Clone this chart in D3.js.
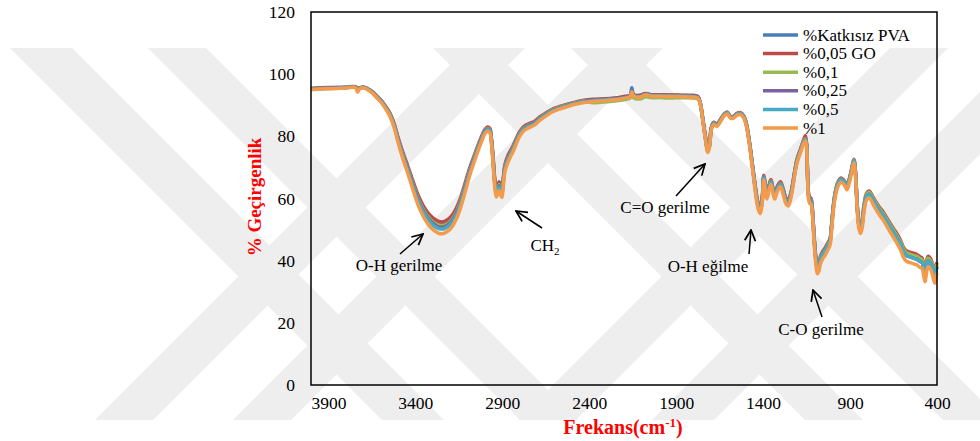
<!DOCTYPE html>
<html><head><meta charset="utf-8">
<script src="https://cdn.jsdelivr.net/npm/d3@7"></script>
<style>html,body{margin:0;padding:0;background:#fff;}svg{display:block;} svg text{font-family:"Liberation Serif","Times New Roman",serif;}</style>
</head><body><svg id="c" width="980" height="441"></svg>
<script>
// Wavenumbers (cm-1)
const wavenumbers = [4000,3950,3900,3850,3800,3745,3732,3722,3700,3675,3645,3620,3595,3570,3545,3520,3500,3470,3440,3410,3385,3355,3325,3295,3265,3240,3215,3190,3165,3140,3114,3085,3055,3025,3000,2985,2972,2962,2952,2942,2934,2926,2918,2910,2902,2895,2885,2870,2855,2840,2820,2800,2775,2745,2715,2683,2650,2610,2570,2530,2480,2430,2380,2330,2280,2230,2190,2165,2155,2145,2110,2075,2040,2000,1950,1900,1850,1800,1775,1762,1748,1733,1718,1708,1698,1685,1665,1645,1620,1605,1588,1572,1550,1530,1510,1495,1478,1460,1443,1428,1416,1405,1396,1388,1378,1365,1355,1343,1333,1318,1300,1285,1268,1255,1243,1232,1218,1205,1185,1168,1157,1150,1145,1140,1133,1125,1117,1108,1098,1088,1080,1070,1058,1044,1030,1015,1005,996,985,970,952,935,918,905,890,878,869,860,850,840,830,820,805,790,770,750,730,711,690,670,650,630,610,592,575,555,535,515,497,485,476,469,462,452,440,430,420,412,405,400];

const seriesNames = ["%Katkısız PVA","%0,05 GO","%0,1","%0,25","%0,5","%1"];
const seriesColors = ["#4A7EBB","#BE4B48","#98B954","#7D60A0","#46AAC5","#F59A4A"];

const pvaPure = [95.3,95.5,95.6,95.7,95.7,95.9,95.5,95.5,95.8,95.3,94.1,92.7,91.3,89.4,87.1,83.5,79.4,74.0,69.3,64.3,60.3,56.8,54.3,52.6,51.6,51.5,52.2,53.5,55.9,59.4,64.1,69.6,74.3,78.7,81.9,82.6,82.2,78.7,72.1,65.0,62.7,63.6,64.7,63.3,62.5,65.5,70.2,72.9,74.7,76.2,78.7,81.1,82.8,83.7,84.5,86.0,87.2,88.6,89.4,90.1,90.8,91.4,91.7,91.9,92.1,92.3,92.7,93.1,95.6,93.3,93.0,93.7,93.3,93.3,93.2,93.2,93.1,93.0,92.7,90.8,86.0,80.2,75.7,77.3,82.6,84.4,83.8,85.3,87.3,87.6,86.3,86.3,87.3,87.5,86.3,83.6,77.8,70.1,62.8,58.0,56.8,60.0,67.2,64.3,61.2,64.1,65.7,62.8,61.2,63.6,65.1,62.8,59.7,59.1,60.9,63.8,68.6,72.4,75.7,78.4,79.3,77.3,69.1,61.9,60.0,59.7,56.6,48.6,41.3,37.7,38.4,40.8,42.3,43.4,44.9,46.7,52.0,57.3,61.7,64.9,66.2,65.6,63.9,65.9,69.4,72.4,68.5,58.8,52.0,50.2,52.2,57.1,60.9,61.6,59.9,57.9,56.2,54.8,52.9,51.1,49.2,47.5,45.5,43.1,41.9,41.5,41.1,40.7,40.0,39.6,37.3,35.5,37.6,40.2,39.7,38.4,36.3,35.2,37.3,38.2];
const go005 = [95.4,95.6,95.7,95.7,95.8,96.0,95.4,95.6,95.9,95.4,94.3,92.9,91.5,89.6,87.3,83.8,79.8,74.6,69.9,65.0,61.2,57.7,55.2,53.6,52.6,52.5,53.2,54.5,56.8,60.2,64.9,70.2,74.8,79.2,82.2,83.0,82.6,79.2,72.7,65.8,63.5,64.4,65.4,64.1,63.3,66.2,70.9,73.5,75.2,76.7,79.2,81.5,83.2,84.1,84.8,86.3,87.5,88.8,89.6,90.3,91.0,91.6,91.9,92.0,92.2,92.5,92.9,93.2,94.7,93.4,93.2,93.8,93.4,93.4,93.3,93.3,93.2,93.2,92.9,90.9,86.2,80.4,75.9,77.6,82.8,84.5,84.0,85.5,87.4,87.8,86.4,86.4,87.4,87.6,86.4,83.8,78.0,70.4,63.2,58.5,57.2,60.4,67.5,64.7,61.6,64.5,66.1,63.2,61.6,64.0,65.4,63.2,60.1,59.5,61.3,64.2,69.0,72.7,75.9,78.6,80.2,77.6,69.4,62.3,60.4,60.1,57.0,49.1,41.9,38.4,39.0,41.4,42.9,44.0,45.5,47.2,52.5,57.8,62.1,65.2,66.6,65.9,64.3,66.2,69.8,72.6,68.8,59.2,52.5,50.8,53.2,57.9,61.7,62.4,60.7,58.8,57.1,55.8,53.9,52.1,50.3,48.6,46.6,44.2,43.1,42.7,42.4,42.0,41.2,40.8,38.6,36.9,38.9,41.4,40.9,39.7,37.6,36.5,38.6,39.5];
const go01 = [95.3,95.4,95.5,95.6,95.7,95.9,95.0,95.4,95.8,95.3,94.1,92.7,91.3,89.4,87.0,83.4,79.3,73.9,69.1,64.1,60.1,56.6,54.0,52.3,51.4,51.3,51.9,53.3,55.6,59.2,63.9,69.4,74.2,78.6,81.8,82.5,82.1,78.6,72.0,64.9,62.5,63.4,64.5,63.1,62.3,65.3,70.1,72.7,74.5,76.1,78.6,81.0,82.7,83.7,84.4,85.9,87.2,88.5,89.4,90.0,90.8,91.4,90.8,91.0,91.2,91.5,91.9,92.3,93.6,92.4,92.0,92.7,92.4,92.5,92.3,92.4,92.4,92.3,92.1,90.8,85.9,80.1,75.6,77.2,82.5,84.3,83.7,85.3,87.2,87.6,86.2,86.2,87.2,87.4,86.2,83.5,77.7,69.9,62.7,57.8,56.5,59.7,67.0,64.1,61.0,63.9,65.6,62.7,61.0,63.4,64.9,62.7,59.5,58.9,60.7,63.6,68.5,72.3,75.6,78.3,79.2,77.2,69.0,61.7,59.7,59.5,56.4,48.6,41.3,37.7,38.4,40.8,42.3,43.4,44.9,46.7,52.0,57.3,61.7,64.9,66.2,65.6,63.9,65.9,69.4,72.4,68.5,58.8,52.0,50.2,52.7,57.5,61.3,62.0,60.3,58.4,56.6,55.3,53.4,51.6,49.8,48.0,46.0,43.7,42.5,42.1,41.7,41.4,40.6,40.2,37.9,36.2,38.2,40.8,40.3,39.1,37.0,35.8,37.9,38.9];
const go025 = [95.2,95.4,95.5,95.6,95.7,95.9,95.2,95.4,95.8,95.2,94.0,92.6,91.2,89.2,86.8,83.2,79.1,73.6,68.8,63.7,59.7,56.1,53.5,51.8,50.8,50.8,51.4,52.8,55.2,58.7,63.5,69.1,73.9,78.4,81.6,82.3,82.0,78.4,71.7,64.5,62.1,63.0,64.1,62.8,61.9,65.0,69.8,72.4,74.3,75.8,78.4,80.8,82.5,83.5,84.3,85.8,87.0,88.4,89.2,89.9,90.7,91.3,91.6,91.7,91.9,92.2,92.6,93.0,94.6,93.2,92.9,93.6,93.2,93.2,93.1,93.1,93.0,92.9,92.6,90.7,85.9,80.0,75.4,77.1,82.5,84.2,83.6,85.2,87.1,87.5,86.2,86.2,87.1,87.3,86.2,83.4,77.6,69.8,62.5,57.6,56.3,59.5,66.9,63.9,60.8,63.7,65.4,62.5,60.8,63.2,64.7,62.5,59.2,58.7,60.5,63.4,68.3,72.1,75.4,78.2,79.1,77.1,68.8,61.5,59.5,59.2,56.1,48.3,41.0,37.4,38.1,40.5,42.0,43.2,44.6,46.4,51.7,57.1,61.5,64.7,66.1,65.4,63.7,65.7,69.3,72.2,68.3,58.6,51.7,50.0,52.0,56.8,60.7,61.4,59.6,57.7,56.0,54.6,52.7,50.8,49.0,47.2,45.2,42.8,41.6,41.2,40.8,40.4,39.7,39.3,37.0,35.2,37.2,39.9,39.4,38.1,36.0,34.8,37.0,37.9];
const go05 = [95.2,95.3,95.4,95.5,95.6,95.8,94.8,95.3,95.7,95.2,94.0,92.5,91.1,89.1,86.7,83.0,78.9,73.3,68.5,63.3,59.3,55.7,53.1,51.3,50.3,50.2,50.9,52.3,54.7,58.3,63.1,68.8,73.6,78.2,81.4,82.2,81.8,78.2,71.4,64.1,61.7,62.7,63.7,62.4,61.5,64.6,69.4,72.2,74.0,75.6,78.2,80.6,82.3,83.3,84.1,85.6,86.9,88.3,89.1,89.8,90.6,91.2,91.5,91.7,91.9,92.1,92.5,92.9,94.5,93.1,92.8,93.5,93.1,93.1,93.0,93.0,92.9,92.8,92.5,90.7,85.8,79.9,75.3,77.0,82.4,84.1,83.5,85.1,87.1,87.5,86.1,86.1,87.1,87.3,86.1,83.3,77.5,69.6,62.3,57.4,56.1,59.3,66.7,63.7,60.6,63.5,65.2,62.3,60.6,63.1,64.5,62.3,59.0,58.4,60.3,63.3,68.2,72.0,75.3,78.0,79.0,77.0,68.6,61.3,59.3,59.0,55.9,48.3,41.0,37.4,38.1,40.5,42.0,43.2,44.6,46.4,51.7,57.1,61.5,64.7,66.1,65.4,63.7,65.7,69.3,72.2,68.3,58.6,51.7,50.0,52.0,56.8,60.7,61.4,59.6,57.7,56.0,54.6,52.7,50.8,49.0,47.2,45.2,42.8,41.6,41.2,40.8,40.4,39.7,39.3,37.0,35.2,37.2,39.9,39.4,38.1,36.0,34.8,37.0,37.9];
const go1 = [95.0,95.2,95.3,95.4,95.5,95.7,94.2,95.2,95.6,95.0,93.8,92.3,90.8,88.8,86.3,82.5,78.2,72.5,67.5,62.2,58.0,54.3,51.6,49.8,48.8,48.7,49.4,50.8,53.3,57.0,62.0,67.8,72.8,77.5,80.8,81.6,81.2,77.5,70.5,63.0,60.5,61.5,62.6,61.2,60.3,63.5,68.5,71.3,73.2,74.8,77.5,80.0,81.8,82.8,83.6,85.2,86.5,87.9,88.8,89.5,90.3,90.9,91.2,91.4,91.6,91.9,92.3,92.7,94.3,92.9,92.6,93.3,92.9,92.9,92.8,92.8,92.7,92.6,92.3,90.5,85.5,79.5,74.8,76.5,82.0,83.8,83.2,84.8,86.8,87.2,85.8,85.8,86.8,87.0,85.8,83.0,77.0,69.0,61.5,56.5,55.2,58.5,66.0,63.0,59.8,62.8,64.5,61.5,59.8,62.3,63.8,61.5,58.2,57.6,59.5,62.5,67.5,71.4,74.8,77.6,78.6,76.5,68.0,60.5,58.5,58.2,55.0,47.0,39.5,35.8,36.5,39.0,40.5,41.7,43.2,45.0,50.5,56.0,60.5,63.8,65.2,64.5,62.8,64.8,68.5,71.5,67.5,57.5,50.5,48.7,50.5,55.5,59.5,60.2,58.4,56.4,54.6,53.2,51.2,49.3,47.4,45.6,43.5,41.0,39.8,39.4,39.0,38.6,37.8,37.4,35.0,33.2,35.3,38.0,37.5,36.2,34.0,32.8,35.0,36.0];

const seriesValues = [pvaPure, go005, go01, go025, go05, go1];

const xTicks = [3900,3400,2900,2400,1900,1400,900,400];
const yTicks = [0,20,40,60,80,100,120];

const annotations = [
  {text:"O-H gerilme", tx:399, ty:271, x1:400, y1:254, x2:423, y2:234},
  {text:"CH", sub:"2", tx:545, ty:251, x1:542, y1:228, x2:516, y2:211},
  {text:"C=O gerilme", tx:665, ty:213, x1:676, y1:196, x2:705, y2:164},
  {text:"O-H eğilme", tx:708, ty:272, x1:749, y1:254, x2:751, y2:230},
  {text:"C-O gerilme", tx:821, ty:335, x1:822, y1:317, x2:813, y2:290}
];

const FONT = "Liberation Serif";
const svg = d3.select("#c");
const m = {left:311, top:12, right:937, bottom:385};

// background watermark (light grey diagonal bands of the page)
const wmTop = 48, wmBot = 420;
const bands = [ // [x-left at top, x-left at bottom, width]
  [10, 382, 62],
  [148, 520, 58],
  [467, 95, 58],
  [605, 233, 58],
  [1024, 652, 62],
  [890, 518, 58],
  [571, 943, 58],
  [433, 805, 58]
];
const wm = svg.append("g").attr("fill","#eeeeee");
bands.forEach(b=>{
  wm.append("polygon").attr("points",
    [[b[0],wmTop],[b[0]+b[2],wmTop],[b[1]+b[2],wmBot],[b[1],wmBot]].map(p=>p.join(",")).join(" "));
});

const x = d3.scaleLinear().domain([4000,400]).range([m.left, m.right]);
const y = d3.scaleLinear().domain([0,120]).range([m.bottom, m.top]);

// lines
const g = svg.append("g");
const lineGen = d3.line().x((d,i)=>x(wavenumbers[i])).y(d=>y(d)).curve(d3.curveCatmullRom.alpha(0.5));
seriesValues.forEach((vals,k)=>{
  g.append("path").datum(vals).attr("d", lineGen)
   .attr("fill","none").attr("stroke",seriesColors[k]).attr("stroke-width",3.5).attr("stroke-linejoin","round");
});

// frame
svg.append("rect").attr("x",m.left).attr("y",m.top).attr("width",m.right-m.left).attr("height",m.bottom-m.top)
  .attr("fill","none").attr("stroke","#000").attr("stroke-width",1.5);

// axes
const xAxis = svg.append("g").attr("transform",`translate(0,${m.bottom})`)
  .call(d3.axisBottom(x).tickValues(xTicks).tickSize(0).tickPadding(12).tickFormat(d3.format("d")));
xAxis.attr("font-family",FONT);
xAxis.select(".domain").remove();
xAxis.selectAll("text").style("font-family",FONT).attr("font-size",17.5).attr("fill","#000");
const yAxis = svg.append("g").attr("transform",`translate(${m.left},0)`)
  .call(d3.axisLeft(y).tickValues(yTicks).tickSize(0).tickPadding(16));
yAxis.attr("font-family",FONT);
yAxis.select(".domain").remove();
yAxis.selectAll("text").style("font-family",FONT).attr("font-size",17.5).attr("fill","#000");

// axis titles
const xt = svg.append("text").attr("x",623).attr("y",434).attr("text-anchor","middle")
  .style("font-family",FONT).attr("font-size",20).attr("font-weight","bold").attr("fill","#FF0000");
xt.append("tspan").text("Frekans(cm");
xt.append("tspan").attr("dy",-7).attr("font-size",13).text("-1");
xt.append("tspan").attr("dy",7).text(")");
svg.append("text").attr("transform","translate(261,197) rotate(-90)").attr("text-anchor","middle")
  .style("font-family",FONT).attr("font-size",19).attr("font-weight","bold").attr("fill","#FF0000").text("% Geçirgenlik");

// legend
const lg = svg.append("g");
seriesNames.forEach((n,i)=>{
  const yy = 35 + i*18.6;
  lg.append("line").attr("x1",763).attr("x2",798).attr("y1",yy).attr("y2",yy).attr("stroke",seriesColors[i]).attr("stroke-width",3.5);
  lg.append("text").attr("x",803).attr("y",yy+5.5).style("font-family",FONT).attr("font-size",17).attr("fill","#000").text(n);
});

// annotations
svg.append("defs").append("marker").attr("id","ah").attr("viewBox","0 0 10 10").attr("refX",9).attr("refY",5)
  .attr("markerWidth",9).attr("markerHeight",9).attr("orient","auto-start-reverse")
  .append("path").attr("d","M1,1 L9,5 L1,9").attr("fill","none").attr("stroke","#000").attr("stroke-width",1.3);
annotations.forEach(a=>{
  svg.append("line").attr("x1",a.x1).attr("y1",a.y1).attr("x2",a.x2).attr("y2",a.y2)
    .attr("stroke","#000").attr("stroke-width",1.5).attr("marker-end","url(#ah)");
  const t = svg.append("text").attr("x",a.tx).attr("y",a.ty).attr("text-anchor","middle")
    .style("font-family",FONT).attr("font-size",17).attr("fill","#000");
  t.append("tspan").text(a.text);
  if(a.sub){ t.append("tspan").attr("dy",4).attr("font-size",11).text(a.sub); }
});
</script></body></html>
